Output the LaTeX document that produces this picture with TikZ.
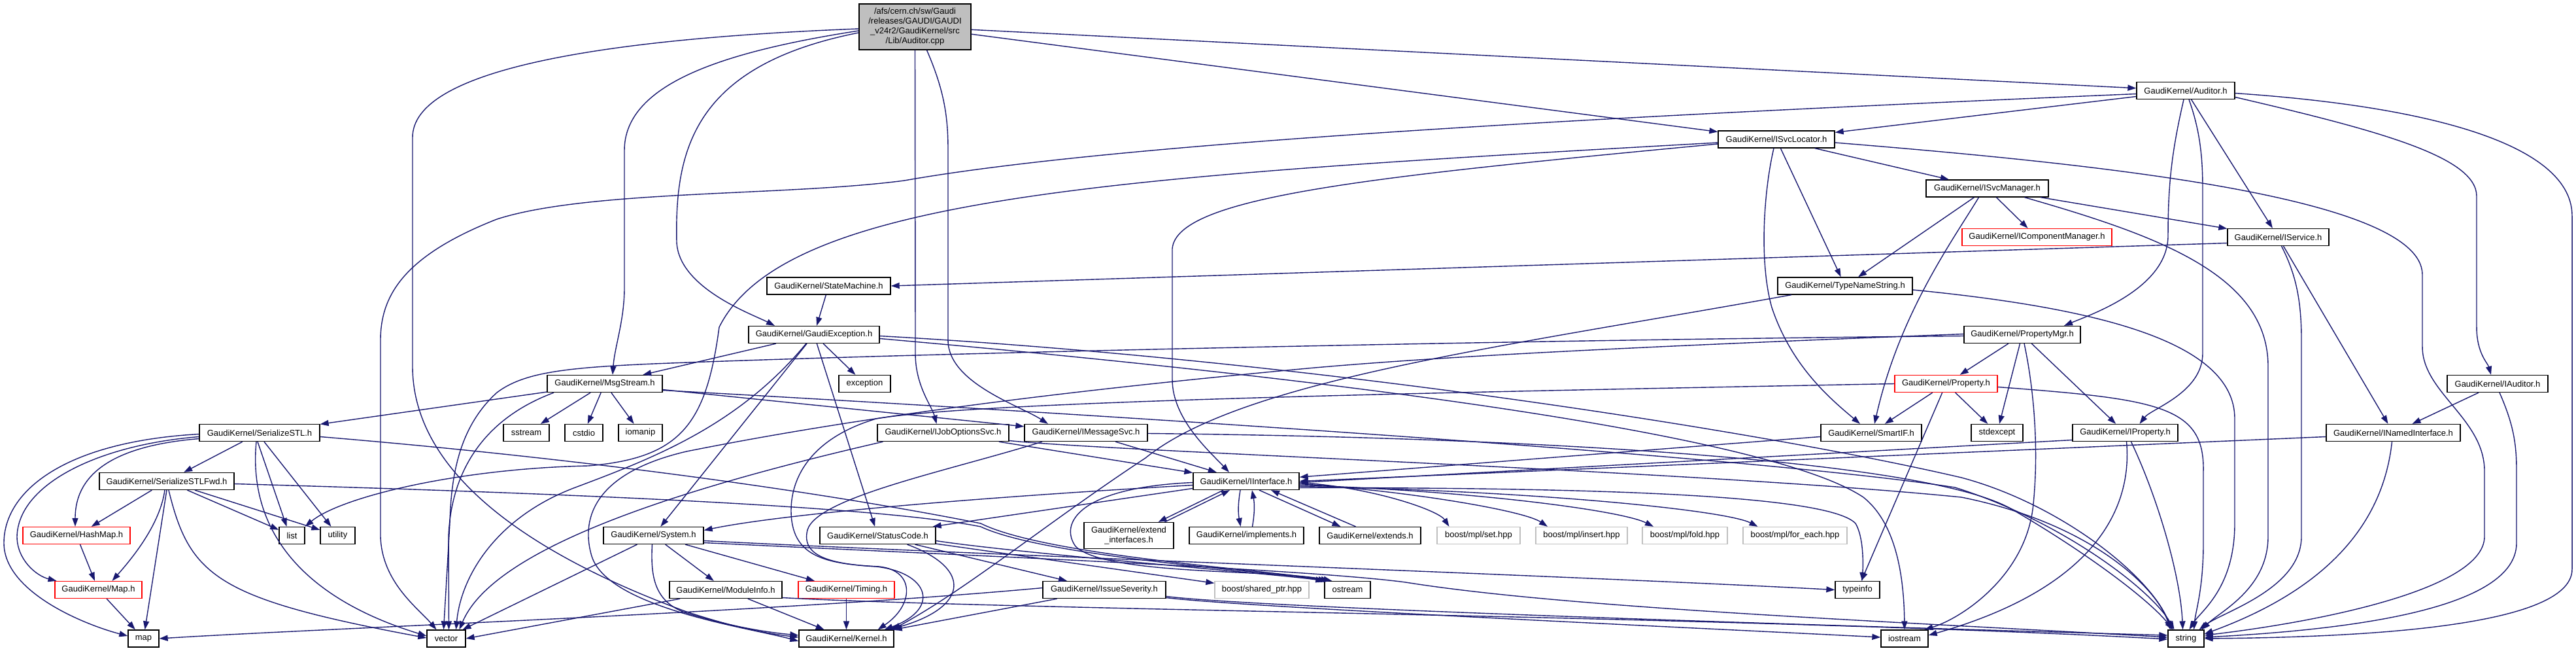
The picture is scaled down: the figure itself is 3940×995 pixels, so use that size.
\documentclass[tikz,border=0pt]{standalone}
\usepackage{fontspec}
\setmainfont{Liberation Sans}
\usetikzlibrary{arrows.meta}
\definecolor{edgeblue}{HTML}{191970}
\definecolor{rootgray}{HTML}{BFBFBF}
\definecolor{extgray}{HTML}{BFBFBF}
\definecolor{trunc}{HTML}{FF0000}
\begin{document}
\begin{tikzpicture}[x=1pt,y=-1pt,
  nbox/.style={draw=black, line width=1.3pt, fill=white, inner sep=0pt, minimum height=26pt, align=center, font=\fontsize{13}{15}\selectfont},
  rbox/.style={nbox, draw=trunc},
  gbox/.style={nbox, draw=extgray},
  edg/.style={draw=edgeblue, line width=1.4pt, -{Triangle[length=13pt,width=9pt]}},
]
\useasboundingbox (0,0) rectangle (3940,995);
% ---------- nodes ----------
\node[nbox, fill=rootgray, minimum width=171pt, minimum height=70pt] (root) at (1399.5,41) {/afs/cern.ch/sw/Gaudi\\/releases/GAUDI/GAUDI\\\_v24r2/GaudiKernel/src\\/Lib/Auditor.cpp};
\node[nbox, minimum width=150pt] (aud) at (3343,138.5) {GaudiKernel/Auditor.h};
\node[nbox, minimum width=178pt] (isl) at (2717,213) {GaudiKernel/ISvcLocator.h};
\node[nbox, minimum width=187pt] (ism) at (3039.5,288) {GaudiKernel/ISvcManager.h};
\node[rbox, minimum width=229pt] (icm) at (3115.5,362.5) {GaudiKernel/IComponentManager.h};
\node[nbox, minimum width=155pt] (isv) at (3484.5,362.5) {GaudiKernel/IService.h};
\node[nbox, minimum width=189pt] (stm) at (1267.5,437) {GaudiKernel/StateMachine.h};
\node[nbox, minimum width=206pt] (tns) at (2822,437) {GaudiKernel/TypeNameString.h};
\node[nbox, minimum width=200pt] (gex) at (1245,511.5) {GaudiKernel/GaudiException.h};
\node[nbox, minimum width=178pt] (pmg) at (3093,511.5) {GaudiKernel/PropertyMgr.h};
\node[nbox, minimum width=176pt] (msg) at (925,586.5) {GaudiKernel/MsgStream.h};
\node[nbox, minimum width=79pt] (exc) at (1322.5,586.5) {exception};
\node[rbox, minimum width=157pt] (prp) at (2976.5,586.5) {GaudiKernel/Property.h};
\node[nbox, minimum width=154pt] (iau) at (3820,586.5) {GaudiKernel/IAuditor.h};
\node[nbox, minimum width=184pt] (ssl) at (397,661.5) {GaudiKernel/SerializeSTL.h};
\node[nbox, minimum width=70pt] (sst) at (805,661.5) {sstream};
\node[nbox, minimum width=58pt] (cst) at (893,661.5) {cstdio};
\node[nbox, minimum width=67pt] (iom) at (979.5,661.5) {iomanip};
\node[nbox, minimum width=201pt] (ijo) at (1442.5,661.5) {GaudiKernel/IJobOptionsSvc.h};
\node[nbox, minimum width=188pt] (ims) at (1661,661.5) {GaudiKernel/IMessageSvc.h};
\node[nbox, minimum width=154pt] (sif) at (2862,661.5) {GaudiKernel/SmartIF.h};
\node[nbox, minimum width=79pt] (sde) at (3054.5,661.5) {stdexcept};
\node[nbox, minimum width=161pt] (ipr) at (3250.5,661.5) {GaudiKernel/IProperty.h};
\node[nbox, minimum width=205pt] (ini) at (3660.5,661.5) {GaudiKernel/INamedInterface.h};
\node[nbox, minimum width=206pt] (sfw) at (255,735.5) {GaudiKernel/SerializeSTLFwd.h};
\node[nbox, minimum width=162pt] (iif) at (1906,735.5) {GaudiKernel/IInterface.h};
\node[rbox, minimum width=164pt] (hsm) at (117,818.5) {GaudiKernel/HashMap.h};
\node[nbox, minimum width=39pt] (lst) at (446.5,818.5) {list};
\node[nbox, minimum width=53pt] (utl) at (516.5,818.5) {utility};
\node[nbox, minimum width=153pt] (sys) at (999.5,818.5) {GaudiKernel/System.h};
\node[nbox, minimum width=177pt] (stc) at (1342.5,818.5) {GaudiKernel/StatusCode.h};
\node[nbox, minimum width=137pt, minimum height=40pt] (exi) at (1726.5,818.5) {GaudiKernel/extend\\\_interfaces.h};
\node[nbox, minimum width=175pt] (imp) at (1906.5,818.5) {GaudiKernel/implements.h};
\node[nbox, minimum width=155pt] (ext) at (2095.5,818.5) {GaudiKernel/extends.h};
\node[gbox, minimum width=127pt] (bset) at (2261.5,818.5) {boost/mpl/set.hpp};
\node[gbox, minimum width=140pt] (bins) at (2419,818.5) {boost/mpl/insert.hpp};
\node[gbox, minimum width=130pt] (bfold) at (2577,818.5) {boost/mpl/fold.hpp};
\node[gbox, minimum width=159pt] (bfe) at (2745.5,818.5) {boost/mpl/for\_each.hpp};
\node[rbox, minimum width=133pt] (mph) at (150.5,901.5) {GaudiKernel/Map.h};
\node[nbox, minimum width=172pt] (mdi) at (1110,901.5) {GaudiKernel/ModuleInfo.h};
\node[rbox, minimum width=147pt] (tim) at (1294.5,901.5) {GaudiKernel/Timing.h};
\node[nbox, minimum width=188pt] (iss) at (1689,901.5) {GaudiKernel/IssueSeverity.h};
\node[gbox, minimum width=144pt] (bsp) at (1930,901.5) {boost/shared\_ptr.hpp};
\node[nbox, minimum width=70pt] (ost) at (2061,901.5) {ostream};
\node[nbox, minimum width=68pt] (tyi) at (2841,901.5) {typeinfo};
\node[nbox, minimum width=47pt] (map) at (219.5,976) {map};
\node[nbox, minimum width=59pt] (vec) at (682.5,976) {vector};
\node[nbox, minimum width=145pt] (ker) at (1294.5,976) {GaudiKernel/Kernel.h};
\node[nbox, minimum width=72pt] (ios) at (2913,976) {iostream};
\node[nbox, minimum width=55pt] (str) at (3343.5,976) {string};
% ---------- edges: Auditor.cpp ----------
\draw[edg] (root) -- (aud);
\draw[edg] (root) -- (isl);
\draw[edg] ([yshift=-9pt]root.west) .. controls (1060,100) and (1032,230) .. (1035,370) .. controls (1038,440) and (1150,480) .. ([xshift=-60pt]gex.north);
\draw[edg] ([yshift=-6pt]root.west) .. controls (1100,80) and (955,130) .. (955,230) -- (955,440) .. controls (955,490) and (940,530) .. ([xshift=12pt]msg.north);
\draw[edg] (root.south) -- (1400,540) .. controls (1400,590) and (1425,620) .. ([xshift=-10pt]ijo.north);
\draw[edg] ([xshift=18pt]root.south) .. controls (1445,140) and (1450,180) .. (1450,230) -- (1450,520) .. controls (1450,585) and (1560,620) .. ([xshift=-58pt]ims.north);
\draw[edg] ([yshift=-3pt]root.west) .. controls (900,60) and (631,110) .. (631,210) -- (631,560) .. controls (631,760) and (900,880) .. (1050,935) .. controls (1120,958) and (1170,968) .. ([yshift=2pt]ker.west);
% ---------- Auditor.h ----------
\draw[edg] ([yshift=-5pt]aud.west) .. controls (2400,180) and (1700,220) .. (1383,276) .. controls (1200,300) and (900,290) .. (760,335) .. controls (620,390) and (582,450) .. (582,520) -- (582,820) .. controls (584,890) and (640,930) .. ([xshift=-15pt]vec.north);
\draw[edg] (aud) -- (isl);
\draw[edg] ([xshift=-3pt]aud.south) .. controls (3322,230) and (3316,280) .. (3316,360) .. controls (3316,440) and (3200,480) .. ([xshift=64pt]pmg.north);
\draw[edg] ([xshift=5pt]aud.south) .. controls (3365,200) and (3369,240) .. (3369,290) -- (3369,540) .. controls (3369,600) and (3290,625) .. ([xshift=22pt]ipr.north);
\draw[edg] (aud) -- (isv);
\draw[edg] ([yshift=-4pt]aud.east) .. controls (3750,165) and (3934,230) .. (3934,330) -- (3934,870) .. controls (3934,960) and (3600,974) .. (str.east);
\draw[edg] ([yshift=-10pt]aud.east) .. controls (3640,200) and (3788,240) .. (3788,300) -- (3788,500) .. controls (3788,540) and (3805,555) .. ([xshift=-10pt]iau.north);
% ---------- ISvcLocator.h ----------
\draw[edg] ([yshift=-5pt]isl.west) .. controls (1700,270) and (1200,300) .. (1100,500) .. controls (1080,650) and (1040,700) .. (900,712) .. controls (700,716) and (520,760) .. (lst.north east);
\draw[edg] ([yshift=-7pt]isl.west) .. controls (2100,270) and (1800,300) .. (1793,380) -- (1793,580) .. controls (1793,640) and (1850,690) .. ([xshift=-26pt]iif.north);
\draw[edg] ([xshift=-4pt]isl.south) .. controls (2698,290) and (2690,400) .. (2710,470) .. controls (2740,560) and (2800,610) .. ([xshift=-17pt]sif.north);
\draw[edg] (isl) -- (tns);
\draw[edg] (isl) -- (ism);
\draw[edg] ([yshift=-5pt]isl.east) .. controls (3200,250) and (3705,300) .. (3705,420) -- (3705,530) .. controls (3705,600) and (3800,640) .. (3800,720) -- (3800,820) .. controls (3800,900) and (3550,950) .. ([yshift=5pt]str.east);
% ---------- ISvcManager.h ----------
\draw[edg] (ism) -- (icm);
\draw[edg] (ism) -- (isv);
\draw[edg] ([xshift=-20pt]ism.south) -- ([xshift=20pt]tns.north);
\draw[edg] ([xshift=-13pt]ism.south) .. controls (2985,370) and (2905,480) .. ([xshift=5pt]sif.north);
\draw[edg] ([xshift=57pt]ism.south) .. controls (3300,360) and (3469,420) .. (3469,560) -- (3469,820) .. controls (3469,900) and (3395,935) .. ([xshift=24pt]str.north);
% ---------- IService.h ----------
\draw[edg] ([yshift=-9pt]isv.west) -- (stm.east);
\draw[edg] ([xshift=5pt]isv.south) .. controls (3512,420) and (3520,460) .. (3520,520) -- (3520,820) .. controls (3520,900) and (3400,935) .. ([xshift=20pt]str.north);
\draw[edg] (isv) -- (ini);
% ---------- IAuditor.h / INamedInterface.h ----------
\draw[edg] (iau) -- (ini);
\draw[edg] ([xshift=3pt]iau.south) .. controls (3845,650) and (3849,680) .. (3849,720) -- (3849,830) .. controls (3849,930) and (3600,962) .. ([yshift=2pt]str.east);
\draw[edg] ([yshift=-6pt]ini.west) -- (iif.east);
\draw[edg] ([xshift=-2pt]ini.south) .. controls (3645,800) and (3560,900) .. ([yshift=7pt]str.east);
% ---------- IProperty.h ----------
\draw[edg] ([yshift=-11pt]ipr.west) -- ([yshift=-2pt]iif.east);
\draw[edg] ([xshift=2pt]ipr.south) .. controls (3262,780) and (3200,900) .. ([yshift=5pt]ios.east);
\draw[edg] ([xshift=9pt]ipr.south) .. controls (3300,760) and (3335,880) .. ([xshift=-5pt]str.north);
% ---------- PropertyMgr.h ----------
\draw[edg] ([yshift=-2pt]pmg.west) .. controls (2300,520) and (1400,540) .. (1000,556) .. controls (860,562) and (800,570) .. (760,600) .. controls (705,650) and (690,720) .. (688,800) -- ([xshift=-4pt]vec.north);
\draw[edg] ([yshift=1pt]pmg.west) .. controls (2500,530) and (2200,545) .. (2000,563) .. controls (1600,600) and (1300,640) .. (1050,690) .. controls (900,725) and (890,800) .. (905,850) .. controls (930,930) and (1150,960) .. ([yshift=-4pt]ker.west);
\draw[edg] (pmg) -- (prp);
\draw[edg] (pmg) -- (sde);
\draw[edg] (pmg) -- (ipr);
\draw[edg] ([xshift=3pt]pmg.south) .. controls (3112,600) and (3118,690) .. (3110,770) .. controls (3100,880) and (3000,945) .. ([xshift=-6pt]ios.north east);
% ---------- Property.h ----------
\draw[edg] (prp) -- (sde);
\draw[edg] (prp) -- (sif);
\draw[edg] (prp) -- (tyi);
\draw[edg] ([yshift=-5pt]prp.east) .. controls (3300,610) and (3372,620) .. (3370,720) -- (3370,830) .. controls (3370,900) and (3358,935) .. ([xshift=12pt]str.north);
\draw[edg] (prp.west) .. controls (2300,598) and (1500,612) .. (1340,640) .. controls (1240,670) and (1210,730) .. (1210,780) .. controls (1210,850) and (1260,862) .. (1345,866) .. controls (1400,872) and (1398,925) .. ([xshift=-25pt]ker.north east);
% ---------- TypeNameString.h ----------
\draw[edg] ([yshift=-6pt]tns.east) .. controls (3200,470) and (3418,520) .. (3418,640) -- (3418,800) .. controls (3418,900) and (3365,935) .. ([xshift=5pt]str.north);
\draw[edg] ([xshift=-82pt]tns.south) .. controls (2300,530) and (1900,580) .. (1752,700) .. controls (1600,800) and (1480,900) .. ([xshift=-3pt]ker.north east);
% ---------- StateMachine.h / GaudiException.h ----------
\draw[edg] (stm) -- (gex);
\draw[edg] (gex) -- (msg);
\draw[edg] (gex) -- (exc);
\draw[edg] (gex) -- (sys);
\draw[edg] (gex) -- (stc);
\draw[edg] ([xshift=-12pt]gex.south) .. controls (1130,650) and (1000,700) .. (880,745) .. controls (760,790) and (705,880) .. ([xshift=15pt]vec.north);
\draw[edg] ([yshift=-2pt]gex.east) .. controls (2000,550) and (2700,660) .. (3000,730) .. controls (3150,770) and (3290,880) .. ([xshift=-22pt]str.north);
\draw[edg] ([yshift=-6pt]gex.east) .. controls (2000,575) and (2700,660) .. (2850,760) .. controls (2900,800) and (2912,880) .. (ios.north);
% ---------- MsgStream.h ----------
\draw[edg] (msg) -- (ssl);
\draw[edg] (msg) -- (sst);
\draw[edg] (msg) -- (cst);
\draw[edg] (msg) -- (iom);
\draw[edg] ([xshift=-78pt]msg.south) .. controls (740,640) and (690,720) .. (686,820) -- ([xshift=4pt]vec.north);
\draw[edg] (msg) -- (ims);
\draw[edg] ([yshift=-10pt]msg.east) .. controls (1800,640) and (2700,700) .. (2990,745) .. controls (3150,795) and (3290,900) .. ([xshift=-18pt]str.north);
% ---------- SerializeSTL.h ----------
\draw[edg] (ssl) -- (sfw);
\draw[edg] ([yshift=-9pt]ssl.west) .. controls (190,680) and (115,715) .. ([xshift=-2pt]hsm.north);
\draw[edg] ([yshift=-6pt]ssl.west) .. controls (150,680) and (28,740) .. (26,820) .. controls (26,855) and (55,880) .. ([xshift=-64pt]mph.north);
\draw[edg] ([yshift=-2pt]ssl.west) .. controls (100,675) and (6,750) .. (6,830) .. controls (6,905) and (130,955) .. ([yshift=4pt]map.west);
\draw[edg] ([xshift=-3pt]ssl.south) -- ([xshift=-8pt]lst.north);
\draw[edg] ([xshift=7pt]ssl.south) -- ([xshift=-10pt]utl.north);
\draw[edg] ([xshift=-5pt]ssl.south) .. controls (380,800) and (450,910) .. ([yshift=4pt]vec.west);
\draw[edg] ([yshift=-6pt]ssl.east) .. controls (1000,710) and (1350,770) .. (1500,800) .. controls (1600,850) and (1950,872) .. ([xshift=8pt]ost.north west);
% ---------- SerializeSTLFwd.h ----------
\draw[edg] (sfw) -- (hsm);
\draw[edg] ([xshift=-3pt]sfw.south) .. controls (245,800) and (205,850) .. ([xshift=21pt]mph.north);
\draw[edg] (sfw.south) -- (map);
\draw[edg] (sfw) -- (lst);
\draw[edg] (sfw) -- (utl);
\draw[edg] ([xshift=3pt]sfw.south) .. controls (290,880) and (330,915) .. ([yshift=1pt]vec.west);
\draw[edg] ([yshift=-4pt]sfw.east) .. controls (900,755) and (1350,775) .. (1500,805) .. controls (1600,852) and (1950,874) .. ([xshift=4pt]ost.north west);
\draw[edg] (hsm) -- (mph);
\draw[edg] (mph) -- (map);
% ---------- System.h ----------
\draw[edg] (sys) -- (mdi);
\draw[edg] (sys) -- (tim);
\draw[edg] ([xshift=-25pt]sys.south) -- ([xshift=25pt]vec.north);
\draw[edg] ([xshift=-2pt]sys.south) .. controls (995,880) and (1000,920) .. (1050,937) .. controls (1120,958) and (1170,966) .. ([yshift=5pt]ker.west);
\draw[edg] ([yshift=-8pt]sys.east) .. controls (1500,848) and (2400,880) .. (tyi.west);
\draw[edg] ([yshift=-11pt]sys.east) .. controls (1500,850) and (2000,870) .. (2150,890) .. controls (2400,930) and (2900,950) .. ([yshift=2pt]str.west);
% ---------- ModuleInfo.h / Timing.h ----------
\draw[edg] (mdi) -- (ker);
\draw[edg] ([xshift=-70pt]mdi.south) -- (vec.east);
\draw[edg] ([yshift=-12pt]mdi.east) .. controls (1400,925) and (2000,935) .. (2400,945) .. controls (2800,955) and (3100,965) .. ([yshift=-1pt]str.west);
\draw[edg] (tim) -- (ker);
% ---------- StatusCode.h ----------
\draw[edg] (stc) -- (iss);
\draw[edg] (stc) -- (bsp);
\draw[edg] ([yshift=-8pt]stc.east) .. controls (1550,845) and (1960,878) .. (ost.north west);
\draw[edg] ([xshift=45pt]stc.south) .. controls (1490,870) and (1480,930) .. ([xshift=-8pt]ker.north east);
% ---------- IssueSeverity.h ----------
\draw[edg] (iss) -- (ker);
\draw[edg] ([yshift=3pt]iss.west) .. controls (1200,935) and (500,960) .. (map.east);
\draw[edg] ([yshift=-10pt]iss.east) .. controls (1900,926) and (2500,948) .. ([yshift=5pt]str.west);
\draw[edg] ([yshift=-12pt]iss.east) .. controls (1900,928) and (2600,960) .. ([yshift=2pt]ios.west);
% ---------- IInterface.h ----------
\draw[edg] ([yshift=-6pt]iif.west) .. controls (1500,760) and (1200,785) .. ([yshift=8pt]sys.east);
\draw[edg] ([yshift=-11pt]iif.west) -- ([xshift=-5pt]stc.north east);
\draw[edg] ([yshift=-2pt]iif.west) .. controls (1650,745) and (1620,800) .. (1645,835) .. controls (1690,880) and (1950,870) .. ([xshift=12pt]ost.north west);
\draw[edg] ([xshift=-35pt]iif.south) -- ([xshift=45pt]exi.north);
\draw[edg] ([xshift=55pt]exi.north) -- ([xshift=-25pt]iif.south);
\draw[edg] ([xshift=-9pt]iif.south) to[bend right=10] ([xshift=-9pt]imp.north);
\draw[edg] ([xshift=9pt]imp.north) to[bend right=10] ([xshift=9pt]iif.south);
\draw[edg] ([xshift=20pt]iif.south) -- ([xshift=-45pt]ext.north);
\draw[edg] ([xshift=-22pt]ext.north) -- ([xshift=38pt]iif.south);
\draw[edg] ([yshift=-2pt]iif.east) .. controls (2100,745) and (2200,780) .. ([xshift=-45pt]bset.north);
\draw[edg] ([yshift=-4pt]iif.east) .. controls (2150,750) and (2330,780) .. ([xshift=-52pt]bins.north);
\draw[edg] ([yshift=-6pt]iif.east) .. controls (2250,750) and (2480,780) .. ([xshift=-48pt]bfold.north);
\draw[edg] ([yshift=-8pt]iif.east) .. controls (2350,750) and (2640,780) .. ([xshift=-57pt]bfe.north);
\draw[edg] ([yshift=-10pt]iif.east) .. controls (2500,745) and (2800,760) .. (2838,800) .. controls (2850,820) and (2850,860) .. ([xshift=7pt]tyi.north);
% ---------- IJobOptionsSvc.h / IMessageSvc.h / SmartIF.h ----------
\draw[edg] (ijo) -- (iif);
\draw[edg] ([xshift=-92pt]ijo.south) .. controls (980,760) and (750,850) .. ([xshift=20pt]vec.north);
\draw[edg] ([yshift=-12pt]ijo.east) .. controls (1700,690) and (2600,720) .. (3000,760) .. controls (3200,800) and (3300,900) .. ([xshift=-24pt]str.north);
\draw[edg] (ims) -- (iif);
\draw[edg] ([yshift=-1pt]ims.east) .. controls (2300,668) and (2950,700) .. (3080,780) .. controls (3200,850) and (3290,920) .. ([xshift=-20pt]str.north);
\draw[edg] ([xshift=-67pt]ims.south) .. controls (1450,720) and (1250,760) .. (1235,810) .. controls (1225,850) and (1270,862) .. (1340,866) .. controls (1420,875) and (1440,930) .. ([xshift=-15pt]ker.north east);
\draw[edg] (sif) -- (iif);
\end{tikzpicture}
\end{document}
